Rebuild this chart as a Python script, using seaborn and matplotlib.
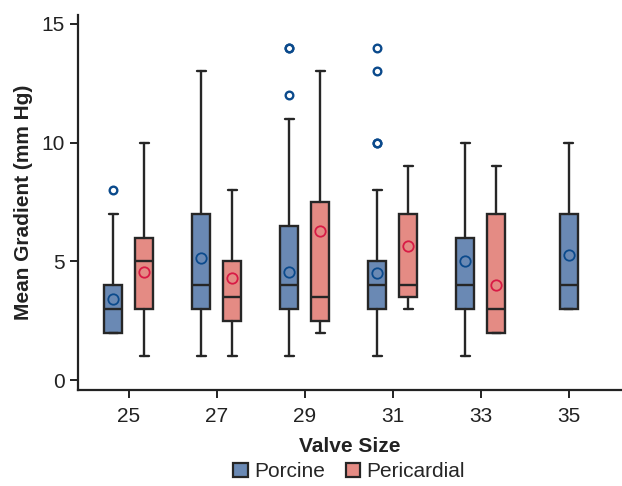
import numpy as np
import matplotlib
matplotlib.use("Agg")
import matplotlib.pyplot as plt
import seaborn as sns
from matplotlib.patches import Patch

# -----------------------------
# Data
# -----------------------------
valve_sizes = ["25", "27", "29", "31", "33", "35"]

# Porcine (all six sizes)
porcine_lo = [2, 1, 1, 1, 1, 3]
porcine_q1 = [2, 3, 3, 3, 3, 3]
porcine_med = [3, 4, 4, 4, 4, 4]
porcine_q3 = [4, 7, 6.5, 5, 6, 7]
porcine_hi = [7, 13, 11, 8, 10, 10]
porcine_mean = [3.4, 5.15, 4.55, 4.5, 5.0, 5.25]
porcine_out = [[8], [], [12, 14, 14], [10, 10, 13, 14], [], []]

# Pericardial (no 35 valve)
peri_sizes = ["25", "27", "29", "31", "33"]
peri_lo = [1, 1, 2, 3, 2]
peri_q1 = [3, 2.5, 2.5, 3.5, 2]
peri_med = [5, 3.5, 3.5, 4, 3]
peri_q3 = [6, 5, 7.5, 7, 7]
peri_hi = [10, 8, 13, 9, 9]
peri_mean = [4.55, 4.3, 6.27, 5.65, 4.0]
peri_out = [[], [], [], [], []]

PORCINE_FILL = "#6a89b4"
PERI_FILL = "#e48b84"
PORCINE_DOT = "#0b4a8c"
PERI_DOT = "#d81b45"
EDGE = "#262626"
FS = 15
LW = 1.7


def make_stats(lo, q1, med, q3, hi, mean, out):
    return [dict(whislo=a, q1=b, med=c, q3=d, whishi=e, mean=m, fliers=f)
            for a, b, c, d, e, m, f in zip(lo, q1, med, q3, hi, mean, out)]


sns.set_theme(style="ticks")
plt.rcParams["font.family"] = ["Liberation Sans", "DejaVu Sans"]

fig, ax = plt.subplots(figsize=(6.22, 4.86), dpi=100)
fig.subplots_adjust(left=0.1254, right=0.998, bottom=0.1975, top=0.969)

offset = 0.177
width = 0.205
idx = {s: i for i, s in enumerate(valve_sizes)}


def draw(stats, sizes, fill, dot, shift):
    pos = []
    for s in sizes:
        i = idx[s]
        # a size with only one valve type sits on the tick
        alone = (s not in peri_sizes)
        pos.append(i if alone else i + shift)
    ax.bxp(stats, positions=pos, widths=width, patch_artist=True,
           showmeans=True, capwidths=width * 0.5, manage_ticks=False,
           boxprops=dict(facecolor=fill, edgecolor=EDGE, linewidth=LW),
           medianprops=dict(color=EDGE, linewidth=LW),
           whiskerprops=dict(color=EDGE, linewidth=LW),
           capprops=dict(color=EDGE, linewidth=LW),
           meanprops=dict(marker="o", markerfacecolor="none",
                          markeredgecolor=dot, markersize=7.5,
                          markeredgewidth=1.3),
           flierprops=dict(marker="o", markerfacecolor="none",
                           markeredgecolor=PORCINE_DOT, markersize=5.5,
                           markeredgewidth=1.7))


draw(make_stats(porcine_lo, porcine_q1, porcine_med, porcine_q3, porcine_hi,
                porcine_mean, porcine_out), valve_sizes, PORCINE_FILL,
     PORCINE_DOT, -offset)
draw(make_stats(peri_lo, peri_q1, peri_med, peri_q3, peri_hi,
                peri_mean, peri_out), peri_sizes, PERI_FILL,
     PERI_DOT, offset)

ax.set_xlim(-0.578, 5.59)
ax.set_ylim(-0.42, 15.37)
ax.set_xticks(range(len(valve_sizes)))
ax.set_xticklabels(valve_sizes)
ax.set_yticks([0, 5, 10, 15])

for side in ["left", "bottom"]:
    ax.spines[side].set_color("#222222")
    ax.spines[side].set_linewidth(1.6)
sns.despine(ax=ax)
ax.tick_params(axis="both", colors="#222222", labelcolor="#222222",
               labelsize=FS, length=5.5, width=1.4)
ax.tick_params(axis="x", pad=7)
ax.tick_params(axis="y", pad=4)

ax.set_xlabel("Valve Size", fontsize=FS, fontweight="bold",
              color="#222222", labelpad=8)
ax.set_ylabel("Mean Gradient (mm Hg)", fontsize=FS, fontweight="bold",
              color="#222222", labelpad=6)

handles = [Patch(facecolor=PORCINE_FILL, edgecolor=EDGE, linewidth=1.6,
                 label="Porcine"),
           Patch(facecolor=PERI_FILL, edgecolor=EDGE, linewidth=1.6,
                 label="Pericardial")]
fig.legend(handles=handles, loc="lower center", ncol=2, frameon=False,
           fontsize=FS, bbox_to_anchor=(0.561, -0.02),
           handlelength=0.7, handleheight=0.7, handletextpad=0.3,
           columnspacing=1.0, borderpad=0.2)

fig.savefig("out.png", dpi=100)
